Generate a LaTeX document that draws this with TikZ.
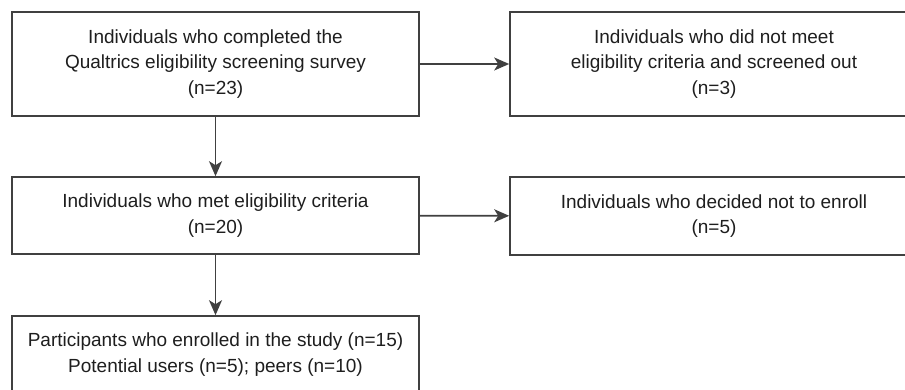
\documentclass[tikz,border=0pt]{standalone}
\usepackage{fontspec}
\setmainfont{Liberation Sans}
\usetikzlibrary{arrows.meta}
\definecolor{boxgray}{HTML}{404040}
\definecolor{txtgray}{HTML}{1E1E1E}

\begin{document}
\begin{tikzpicture}[x=1pt,y=-1pt,
	flowbox/.style={draw=boxgray,line width=1.6pt,minimum width=407pt,inner sep=0pt,align=center,
		text=txtgray,font=\fontsize{19}{25.7}\selectfont},
	flowarrow/.style={draw=boxgray,line width=1.6pt,-{Stealth[length=15pt,width=13pt,inset=4pt]}}]
	\useasboundingbox (0,0) rectangle (905,390);
	\newcommand{\colL}{215.5}
	\newcommand{\colR}{714}
	\node[flowbox,minimum height=104pt] (survey) at (\colL,64) {Individuals who completed the\\Qualtrics eligibility screening survey\\(n=23)}; %step 1
	\node[flowbox,minimum height=104pt,minimum width=408pt] (screened) at (\colR,64) {Individuals who did not meet\\eligibility criteria and screened out\\(n=3)}; %excluded
	\node[flowbox,minimum height=77pt] (eligible) at (\colL,215.5) {Individuals who met eligibility criteria\\(n=20)}; %step 2
	\node[flowbox,minimum height=78pt,minimum width=408pt] (declined) at (\colR,216) {Individuals who decided not to enroll\\(n=5)}; %declined
	\node[flowbox,minimum height=77pt] (enrolled) at (\colL,354.5) {Participants who enrolled in the study (n=15)\\Potential users (n=5); peers (n=10)}; %step 3
	\draw[flowarrow] (survey) -- (screened);
	\draw[flowarrow] (survey) -- (eligible);
	\draw[flowarrow] (eligible) -- (declined);
	\draw[flowarrow] (eligible) -- (enrolled);
\end{tikzpicture}
\end{document}
